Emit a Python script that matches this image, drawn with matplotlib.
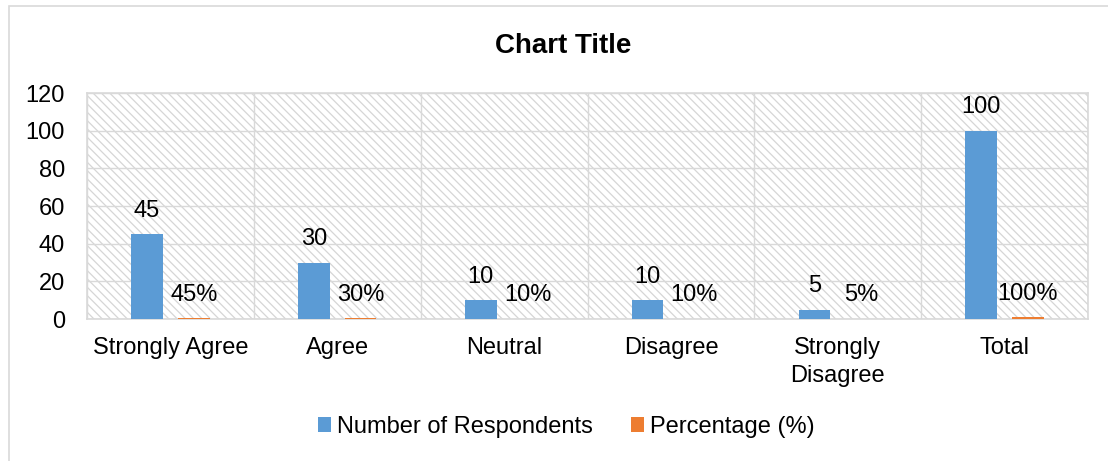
import matplotlib
matplotlib.use('Agg')
import matplotlib.pyplot as plt
import matplotlib.patches as mpatches
import numpy as np

categories = ['Strongly Agree', 'Agree', 'Neutral', 'Disagree', 'Strongly\nDisagree', 'Total']
respondents = [45, 30, 10, 10, 5, 100]
percentages = [0.45, 0.30, 0.10, 0.10, 0.05, 1.00]
pct_labels = ['45%', '30%', '10%', '10%', '5%', '100%']
yticks = [0, 20, 40, 60, 80, 100, 120]

BLUE = '#5B9BD5'
ORANGE = '#ED7D31'
GRID = '#D9D9D9'

plt.rcParams.update({
    'font.family': ['Liberation Sans', 'DejaVu Sans'],
    'font.size': 17,
    'hatch.linewidth': 0.9,
})

fig = plt.figure(figsize=(11.08, 4.61), dpi=100)
ax = fig.add_axes([0.0785, 0.308, 0.9035, 0.49])

# outer chart border (Excel chart area)
fig.patches.append(mpatches.Rectangle((9 / 1108, -0.1), 1.2, 1 - 6 / 461 + 0.1,
                                      transform=fig.transFigure, fill=False,
                                      edgecolor=GRID, linewidth=1.2))

# hatched plot-area background
ax.add_patch(mpatches.Rectangle((0, 0), 1, 1, transform=ax.transAxes, facecolor='white',
                                edgecolor='#D6D6D6', hatch='\\\\\\\\', linewidth=0, zorder=0))

x = np.arange(len(categories))
w = 0.19
off = 0.14
b1 = ax.bar(x - off, respondents, w, color=BLUE, zorder=3, label='Number of Respondents')
b2 = ax.bar(x + off, percentages, w, color=ORANGE, zorder=3, label='Percentage (%)')

for xi, v in zip(x, respondents):
    ax.annotate(str(v), (xi - off, v), textcoords='offset points', xytext=(0, 9),
                ha='center', va='bottom', fontsize=17, color='black', zorder=4)
for xi, v, lab in zip(x, percentages, pct_labels):
    ax.annotate(lab, (xi + off, v), textcoords='offset points', xytext=(0, 9),
                ha='center', va='bottom', fontsize=17, color='black', zorder=4)

ax.set_xlim(-0.5, len(categories) - 0.5)
ax.set_ylim(0, 120)
ax.set_yticks(yticks)
ax.set_xticks(x)
ax.set_xticklabels(categories, linespacing=1.35)
ax.set_xticks(np.arange(len(categories) + 1) - 0.5, minor=True)
ax.tick_params(axis='both', which='both', length=0)
ax.tick_params(axis='y', pad=16)
ax.tick_params(axis='x', pad=13)

ax.grid(True, axis='y', which='major', color=GRID, linewidth=1.0, zorder=1)
ax.grid(True, axis='x', which='minor', color=GRID, linewidth=1.0, zorder=1)
ax.set_axisbelow(False)
for sp in ax.spines.values():
    sp.set_color(GRID)
    sp.set_linewidth(1.2)

fig.text(0.508, 0.9, 'Chart Title', ha='center', va='center', fontsize=20, fontweight='bold')

fig.legend(handles=[b1, b2], loc='center', bbox_to_anchor=(0.511, 0.074), ncol=2,
           frameon=False, fontsize=17, handlelength=0.55, handleheight=0.55,
           handletextpad=0.25, columnspacing=1.6)

fig.savefig('out.png', dpi=100)
